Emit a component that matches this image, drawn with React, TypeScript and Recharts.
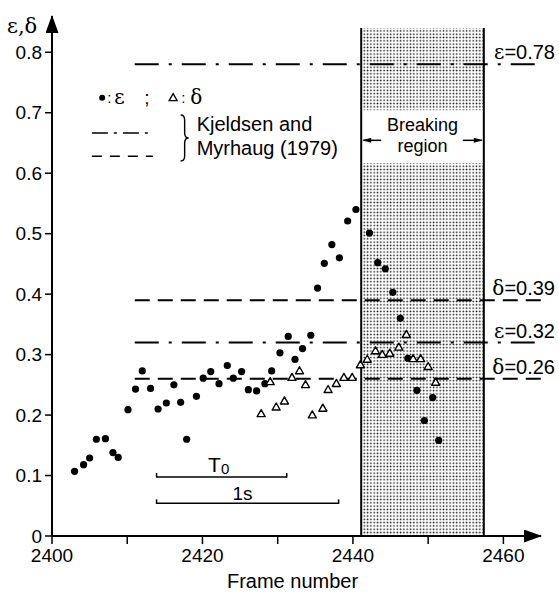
import React from 'react';
import {
  ScatterChart,
  Scatter,
  XAxis,
  YAxis,
  ReferenceLine,
  ReferenceArea,
  ReferenceDot,
} from 'recharts';

// measured points: eps (filled dots) and delta (open triangles) per frame
const epsFrames = [
  2403.0, 2404.2, 2405.0, 2405.9, 2407.1, 2408.1, 2408.8, 2410.1, 2411.1, 2412.0,
  2413.1, 2414.1, 2415.2, 2416.2, 2417.1, 2417.9, 2419.2, 2420.1, 2421.1, 2422.2,
  2423.3, 2424.1, 2425.2, 2426.1, 2427.2, 2428.3, 2429.2, 2430.3, 2431.4, 2432.3,
  2433.3, 2434.4, 2435.3, 2436.2, 2437.2, 2438.2, 2439.3, 2440.4, 2442.2, 2443.3,
  2444.3, 2445.3, 2446.3, 2447.3, 2448.5, 2449.5, 2450.6, 2451.4,
];
const epsValues = [
  0.107, 0.118, 0.129, 0.16, 0.161, 0.138, 0.13, 0.209, 0.243, 0.273,
  0.244, 0.21, 0.22, 0.25, 0.221, 0.16, 0.231, 0.261, 0.272, 0.252,
  0.282, 0.261, 0.272, 0.242, 0.24, 0.252, 0.273, 0.303, 0.33, 0.292,
  0.31, 0.332, 0.41, 0.451, 0.482, 0.46, 0.521, 0.54, 0.501, 0.452,
  0.442, 0.403, 0.36, 0.294, 0.241, 0.191, 0.229, 0.158,
];
const deltaFrames = [
  2427.8, 2429.0, 2429.8, 2430.9, 2431.9, 2432.9, 2433.7, 2434.6, 2436.0, 2436.7,
  2437.8, 2438.8, 2439.9, 2441.0, 2441.9, 2443.0, 2443.9, 2444.9, 2446.1, 2447.1,
  2448.0, 2449.0, 2450.0, 2451.0,
];
const deltaValues = [
  0.202, 0.255, 0.213, 0.223, 0.262, 0.273, 0.25, 0.2, 0.211, 0.242,
  0.252, 0.262, 0.262, 0.283, 0.292, 0.306, 0.3, 0.302, 0.312, 0.333,
  0.293, 0.293, 0.28, 0.254,
];

// Kjeldsen and Myrhaug (1979) limits
const epsLimits = [0.78, 0.32];
const deltaLimits = [0.39, 0.26];
const limitStart = 2411;
const limitEnd = 2465;

const breakingStart = 2441.1;
const breakingEnd = 2457.4;

const xTicks = [2400, 2410, 2420, 2430, 2440, 2450, 2460];
const yTicks = [0, 0.1, 0.2, 0.3, 0.4, 0.5, 0.6, 0.7, 0.8];

const FONT = '"Liberation Sans", Arial, sans-serif';
const GREEK = '"DejaVu Serif", "Liberation Serif", serif';
const DASH_DOT = '24 10 3 10';
const DASHED = '15 8';

const epsData = epsFrames.map((x, i) => ({ x, y: epsValues[i] }));
const deltaData = deltaFrames.map((x, i) => ({ x, y: deltaValues[i] }));

const DotShape = (p: any) => <circle cx={p.cx} cy={p.cy} r={3.6} fill="#000" />;
const TriShape = (p: any) => (
  <path
    d={`M${p.cx},${p.cy - 4.2} L${p.cx + 4},${p.cy + 2.8} L${p.cx - 4},${p.cy + 2.8} Z`}
    fill="#fff"
    stroke="#000"
    strokeWidth={1.4}
    strokeLinejoin="round"
  />
);

const limitLabel = (greek: string, value: string) => (props: any) => {
  const vb = props.viewBox;
  if (!vb) return null;
  return (
    <text x={vb.x + vb.width + 14} y={vb.y - 5} textAnchor="end" fontSize={20} fill="#000" fontFamily={FONT}>
      <tspan fontFamily={GREEK}>{greek}</tspan>
      <tspan>={value}</tspan>
    </text>
  );
};

const barLabel = (main: string, sub: string | null, dx: number, dy: number, size: number) => (props: any) => {
  const vb = props.viewBox;
  if (!vb) return null;
  const { x, y, width } = vb;
  return (
    <g>
      <line x1={x} y1={y + 0.5} x2={x} y2={y - 4} stroke="#000" strokeWidth={1.5} />
      <line x1={x + width} y1={y + 0.5} x2={x + width} y2={y - 4} stroke="#000" strokeWidth={1.5} />
      <text x={x + width / 2 + dx} y={y - dy} textAnchor="middle" fontSize={size} fill="#000" fontFamily={FONT}>
        {main}
        {sub && (
          <tspan fontSize={15} dy={2}>
            {sub}
          </tspan>
        )}
      </text>
    </g>
  );
};

const breakingLabel = (props: any) => {
  const vb = props.viewBox;
  if (!vb) return null;
  const { x, y, width } = vb;
  const cx = x + width / 2;
  const ay = y + 30;
  return (
    <g fontFamily={FONT} fill="#000">
      <text x={cx} y={y + 21} textAnchor="middle" fontSize={18}>Breaking</text>
      <text x={cx} y={y + 42} textAnchor="middle" fontSize={18}>region</text>
      <line x1={x + 2} y1={ay} x2={x + 20} y2={ay} stroke="#000" strokeWidth={1.5} />
      <path d={`M${x + 1},${ay} L${x + 10},${ay - 2.5} L${x + 10},${ay + 2.5} Z`} fill="#000" />
      <line x1={x + width - 21} y1={ay} x2={x + width - 2} y2={ay} stroke="#000" strokeWidth={1.5} />
      <path d={`M${x + width - 1},${ay} L${x + width - 10},${ay - 2.5} L${x + width - 10},${ay + 2.5} Z`} fill="#000" />
    </g>
  );
};

const symbolLegend = (props: any) => {
  const vb = props.viewBox;
  if (!vb) return null;
  const ax = vb.x + vb.width / 2;
  const ay = vb.y + vb.height / 2;
  return (
    <g fill="#000">
      <circle cx={ax + 5} cy={ay - 3} r={3} fill="#000" />
      <text x={ax + 10} y={ay + 2} fontSize={15} fontFamily={FONT}>:</text>
      <text x={ax + 17} y={ay + 3} fontSize={20} fontFamily={GREEK}>ε</text>
      <text x={ax + 47} y={ay + 3} fontSize={19} fontFamily={FONT}>;</text>
      <path
        d={`M${ax + 76},${ay - 7} L${ax + 80},${ay} L${ax + 72},${ay} Z`}
        fill="#fff"
        stroke="#000"
        strokeWidth={1.3}
      />
      <text x={ax + 84} y={ay + 2} fontSize={15} fontFamily={FONT}>:</text>
      <text x={ax + 93} y={ay + 3} fontSize={20} fontFamily={GREEK}>δ</text>
    </g>
  );
};

const sourceLegend = (props: any) => {
  const vb = props.viewBox;
  if (!vb) return null;
  const ax = vb.x + vb.width / 2;
  const ay = vb.y + vb.height / 2;
  return (
    <g>
      <path
        d={`M${ax},${ay - 18} Q${ax + 4},${ay - 18} ${ax + 4},${ay - 13} L${ax + 4},${ay} Q${ax + 4},${ay + 5} ${ax + 8},${ay + 5} Q${ax + 4},${ay + 5} ${ax + 4},${ay + 10} L${ax + 4},${ay + 23} Q${ax + 4},${ay + 28} ${ax},${ay + 28}`}
        fill="none"
        stroke="#000"
        strokeWidth={1.4}
      />
      <text x={ax + 16} y={ay - 2} fontSize={20} fill="#000" fontFamily={FONT}>Kjeldsen and</text>
      <text x={ax + 16} y={ay + 22} fontSize={20} fill="#000" fontFamily={FONT}>Myrhaug (1979)</text>
    </g>
  );
};

const xLabel = (props: any) => {
  const vb = props.viewBox;
  if (!vb) return null;
  return (
    <text x={vb.x + vb.width / 2 - 4} y={vb.y + 52} textAnchor="middle" fontSize={20} fill="#000" fontFamily={FONT}>
      Frame number
    </text>
  );
};

const yLabel = () => (
  <text x={7} y={33} fontSize={21} fill="#000" fontFamily={GREEK}>
    ε,δ
  </text>
);

const App: React.FC = () => {
  return (
    <div style={{ position: 'absolute', left: 0, top: 0, width: 559, height: 592, background: '#fff', fontFamily: FONT }}>
      <ScatterChart width={559} height={592} margin={{ top: 16, right: 18, bottom: 0, left: 0 }}>
        <defs>
          <pattern id="stipple" width={3.3} height={3.3} patternUnits="userSpaceOnUse">
            <rect width={3.3} height={3.3} fill="#fff" />
            <circle cx={1.3} cy={1.3} r={0.85} fill="#111" />
          </pattern>
          <marker
            id="arrowHead"
            viewBox="0 0 18 13"
            refX={17}
            refY={6.5}
            markerWidth={18}
            markerHeight={13}
            markerUnits="userSpaceOnUse"
            orient="auto-start-reverse"
          >
            <path d="M0,0 L18,6.5 L0,13 Z" fill="#000" />
          </marker>
        </defs>
        <XAxis
          type="number"
          dataKey="x"
          domain={[2400, 2465]}
          allowDataOverflow
          ticks={xTicks}
          interval={0}
          tickFormatter={(v: number) => (v % 20 === 0 ? String(v) : '')}
          height={56}
          axisLine={{ stroke: '#000', strokeWidth: 2, markerEnd: 'url(#arrowHead)' }}
          tickLine={{ stroke: '#000', strokeWidth: 1.5 }}
          tickSize={8}
          tickMargin={5}
          tick={{ fontSize: 19, fill: '#000', fontFamily: FONT }}
          label={xLabel}
        />
        <YAxis
          type="number"
          dataKey="y"
          domain={[0, 0.86]}
          allowDataOverflow
          ticks={yTicks}
          interval={0}
          tickFormatter={(v: number) => (v === 0 ? '0' : v.toFixed(1))}
          width={52}
          axisLine={{ stroke: '#000', strokeWidth: 2, markerStart: 'url(#arrowHead)' }}
          tickLine={{ stroke: '#000', strokeWidth: 1.5 }}
          tickSize={7}
          tickMargin={3}
          tick={{ fontSize: 19, fill: '#000', fontFamily: FONT }}
          label={yLabel}
        />

        <ReferenceArea
          x1={breakingStart}
          x2={breakingEnd}
          y1={0}
          y2={0.84}
          fill="url(#stipple)"
          fillOpacity={1}
          stroke="none"
        />
        <ReferenceArea
          x1={breakingStart}
          x2={breakingEnd}
          y1={0.617}
          y2={0.704}
          fill="#fff"
          fillOpacity={1}
          stroke="none"
          label={breakingLabel}
        />
        <ReferenceLine
          segment={[{ x: breakingStart, y: 0 }, { x: breakingStart, y: 0.84 }]}
          stroke="#000"
          strokeWidth={2}
        />
        <ReferenceLine
          segment={[{ x: breakingEnd, y: 0 }, { x: breakingEnd, y: 0.84 }]}
          stroke="#000"
          strokeWidth={2}
        />

        {epsLimits.map((v) => (
          <ReferenceLine
            key={`eps-${v}`}
            segment={[{ x: limitStart, y: v }, { x: limitEnd, y: v }]}
            stroke="#000"
            strokeWidth={2}
            strokeDasharray={DASH_DOT}
            label={limitLabel('ε', v.toFixed(2))}
          />
        ))}
        {deltaLimits.map((v) => (
          <ReferenceLine
            key={`delta-${v}`}
            segment={[{ x: limitStart, y: v }, { x: limitEnd, y: v }]}
            stroke="#000"
            strokeWidth={2}
            strokeDasharray={DASHED}
            label={limitLabel('δ', v.toFixed(2))}
          />
        ))}

        {/* legend */}
        <ReferenceDot x={2406} y={0.72} r={1} fill="none" stroke="none" label={symbolLegend} />
        <ReferenceLine
          segment={[{ x: 2405.3, y: 0.6665 }, { x: 2413.4, y: 0.6665 }]}
          stroke="#000"
          strokeWidth={1.6}
          strokeDasharray="16 6 3 6"
        />
        <ReferenceLine
          segment={[{ x: 2405.3, y: 0.628 }, { x: 2413.4, y: 0.628 }]}
          stroke="#000"
          strokeWidth={1.6}
          strokeDasharray="10 8"
        />
        <ReferenceDot x={2417.1} y={0.6665} r={1} fill="none" stroke="none" label={sourceLegend} />

        {/* period and 1 s scale bars */}
        <ReferenceLine
          segment={[{ x: 2413.9, y: 0.0975 }, { x: 2431.2, y: 0.0975 }]}
          stroke="#000"
          strokeWidth={1.5}
          label={barLabel('T', '0', -3, 5, 21)}
        />
        <ReferenceLine
          segment={[{ x: 2413.9, y: 0.054 }, { x: 2438.1, y: 0.054 }]}
          stroke="#000"
          strokeWidth={1.5}
          label={barLabel('1s', null, -5, 3, 19)}
        />

        <Scatter data={epsData} shape={DotShape} isAnimationActive={false} />
        <Scatter data={deltaData} shape={TriShape} isAnimationActive={false} />
      </ScatterChart>
    </div>
  );
};

export default App;
